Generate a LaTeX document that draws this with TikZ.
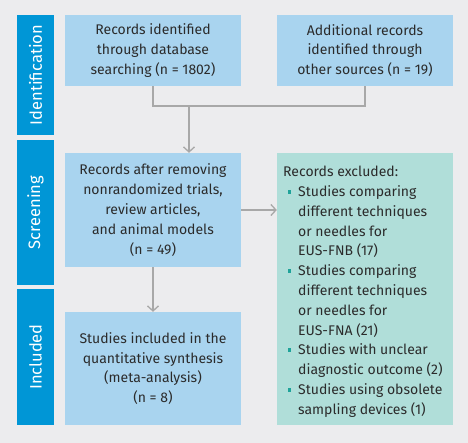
\documentclass[tikz,border=0pt]{standalone}
\usepackage{fontspec}
\setmainfont{Fira Sans}
\usetikzlibrary{arrows.meta}
\definecolor{bg}{HTML}{ECECEE}
\definecolor{bar}{HTML}{0096D6}
\definecolor{boxblue}{HTML}{A9D4EF}
\definecolor{boxteal}{HTML}{B0DED9}
\definecolor{bulcol}{HTML}{1FA39A}
\definecolor{txt}{HTML}{2B2B2B}
\definecolor{conn}{HTML}{A8A8A8}
\newcommand{\bul}{\makebox[15pt][l]{\hspace{4.5pt}\textcolor{bulcol}{\rule[3pt]{3.5pt}{3.5pt}}}}
\newcommand{\ind}{\hspace*{15pt}}
\begin{document}
\begin{tikzpicture}[x=1pt,y=1pt,
  sidebar/.style={fill=bar, text=white, minimum height=37pt, rotate=90, inner sep=0pt, font=\fontsize{16.5}{18}\selectfont},
  flowbox/.style={fill=boxblue, text=txt, minimum width=176pt, align=center, inner sep=0pt, font=\fontsize{14}{19.8}\selectfont},
  connector/.style={draw=conn, line width=1.3pt},
  arr/.style={connector, -{Straight Barb[length=5pt,width=11pt,line width=1.3pt]}}]
\fill[bg] (0,0) rectangle (468,-443);
\useasboundingbox (0,0) rectangle (468,-443);
% side bars
\node[sidebar, minimum width=120pt] (id) at (35.5,-75) {Identification};
\node[sidebar, minimum width=145pt] (scr) at (35.5,-212.5) {Screening};
\node[sidebar, minimum width=136pt] (inc) at (35.5,-357) {Included};
% boxes
\node[flowbox, minimum height=71pt] (b1) at (153,-50.5) {Records identified\\through database\\searching (n = 1802)};
\node[flowbox, minimum height=71pt] (b2) at (365,-50.5) {Additional records\\identified through\\other sources (n = 19)};
\node[flowbox, minimum height=114pt] (b3) at (153,-210) {Records after removing\\nonrandomized trials,\\review articles,\\and animal models\\(n = 49)};
\node[flowbox, minimum height=113pt] (b5) at (153,-368.5) {Studies included in the\\quantitative synthesis\\(meta-analysis)\\(n = 8)};
\node[flowbox, fill=boxteal, minimum height=272pt] (b4) at (365,-289) {};
\node[anchor=north west, inner sep=0pt, align=left, text=txt, font=\fontsize{14}{19.8}\selectfont] (b4t) at (283,-166) {Records excluded:\\
\bul Studies comparing\\
\ind different techniques\\
\ind or needles for\\
\ind EUS-FNB (17)\\
\bul Studies comparing\\
\ind different techniques\\
\ind or needles for\\
\ind EUS-FNA (21)\\
\bul Studies with unclear\\
\ind diagnostic outcome (2)\\
\bul Studies using obsolete\\
\ind sampling devices (1)};
% connectors
\coordinate (j) at (189,-106);
\draw[connector] (b1.south) -- (b1.south |- j) -- (b2.south |- j) -- (b2.south);
\draw[arr] (j) -- (j |- b3.north);
\draw[arr] (b3.east) -- (b3.east -| b4.west);
\draw[arr] (b3.south) -- (b5.north);
\end{tikzpicture}
\end{document}
